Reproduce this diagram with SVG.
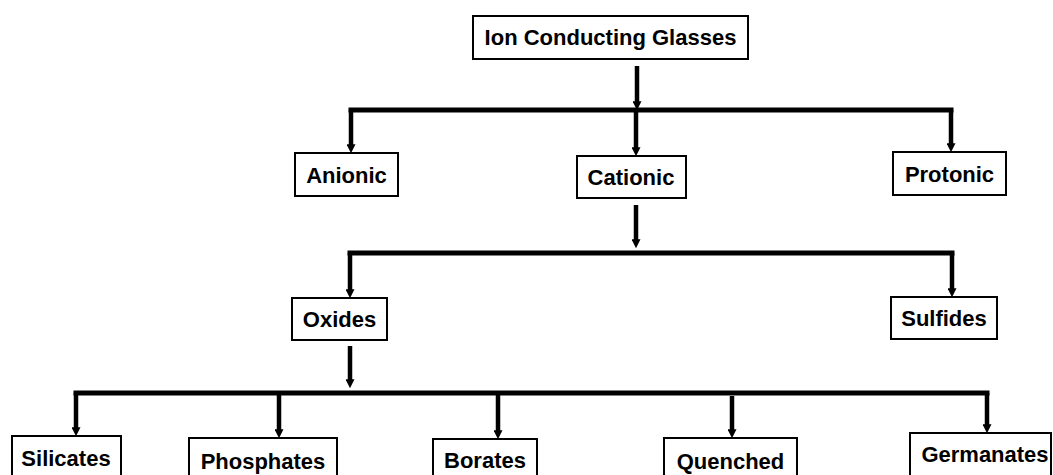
<svg xmlns="http://www.w3.org/2000/svg" width="1053" height="475" viewBox="0 0 1053 475">
<style>
.box{fill:#fff;stroke:#000;stroke-width:2}
.lbl{font-family:"Liberation Sans",Arial,sans-serif;font-weight:bold;font-size:22px;fill:#000;text-anchor:middle}
.bar{stroke:#000;stroke-width:5;fill:none}
.drop{stroke:#000;stroke-width:4.5;fill:none;marker-end:url(#ah)}
</style>
<defs>
<marker id="ah" markerWidth="3" markerHeight="2" refX="0.6" refY="1" orient="auto" markerUnits="strokeWidth">
<path d="M0,0 L2,1 L0,2 Z" fill="#000"/>
</marker>
</defs>
<rect width="1053" height="475" fill="#fff"/>
<g id="connectors">
<path class="drop" d="M637,66 V104"/>
<path class="bar" d="M348.5,110 H953.5"/>
<path class="drop" d="M351,110 V147"/>
<path class="drop" d="M636,110 V150"/>
<path class="drop" d="M951,110 V146"/>
<path class="drop" d="M636,205 V242"/>
<path class="bar" d="M347.5,253 H954.5"/>
<path class="drop" d="M350,253 V292"/>
<path class="drop" d="M952,253 V291"/>
<path class="drop" d="M350,346 V382"/>
<path class="bar" d="M73.5,393 H989.5"/>
<path class="drop" d="M76,393 V430"/>
<path class="drop" d="M279,393 V432"/>
<path class="drop" d="M498,393 V433"/>
<path class="drop" d="M732,396 V432"/>
<path class="drop" d="M987,393 V427"/>
</g>
<g id="ion"><rect class="box" x="473" y="16" width="275" height="43"/><text class="lbl" x="610.5" y="45">Ion Conducting Glasses</text></g>
<g id="anionic"><rect class="box" x="295" y="153" width="103" height="43"/><text class="lbl" x="346.5" y="183">Anionic</text></g>
<g id="cationic"><rect class="box" x="577" y="156" width="109" height="42"/><text class="lbl" x="631" y="185">Cationic</text></g>
<g id="protonic"><rect class="box" x="893" y="152" width="113" height="43"/><text class="lbl" x="949.5" y="182">Protonic</text></g>
<g id="oxides"><rect class="box" x="292" y="298" width="95" height="42"/><text class="lbl" x="339.5" y="327">Oxides</text></g>
<g id="sulfides"><rect class="box" x="891" y="297" width="106" height="42"/><text class="lbl" x="944" y="326">Sulfides</text></g>
<g id="silicates"><rect class="box" x="12" y="436" width="109" height="44"/><text class="lbl" x="66" y="466">Silicates</text></g>
<g id="phosphates"><rect class="box" x="189" y="438" width="148" height="44"/><text class="lbl" x="263" y="469">Phosphates</text></g>
<g id="borates"><rect class="box" x="433" y="439" width="104" height="44"/><text class="lbl" x="485" y="468">Borates</text></g>
<g id="quenched"><rect class="box" x="664" y="438" width="133" height="44"/><text class="lbl" x="730.5" y="469">Quenched</text></g>
<g id="germanates"><rect class="box" x="910" y="433" width="141" height="44"/><text class="lbl" x="985" y="462">Germanates</text></g>
</svg>
